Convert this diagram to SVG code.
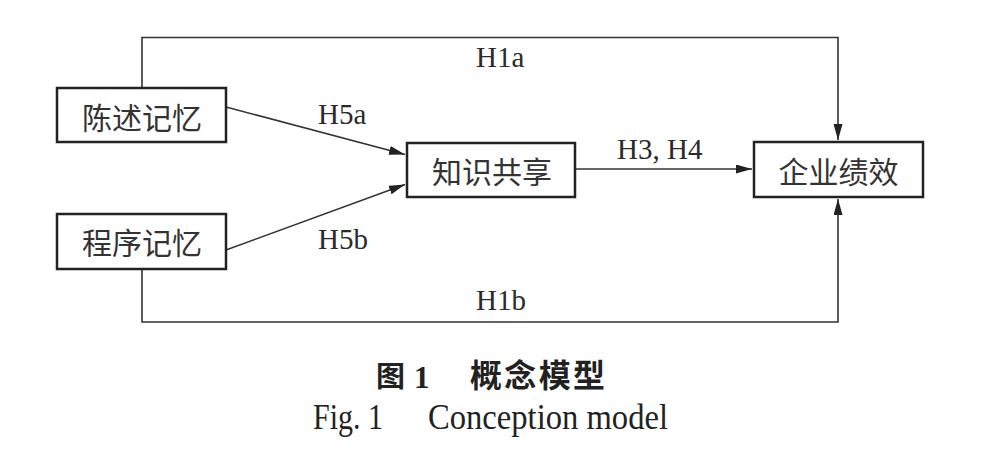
<svg xmlns="http://www.w3.org/2000/svg" width="1000" height="464" viewBox="0 0 1000 464">
<defs>
<marker id="arr" markerUnits="userSpaceOnUse" markerWidth="18" markerHeight="10" refX="16" refY="4.5" orient="auto">
<path d="M0,0 L16,4.5 L0,9 z" fill="#222"/>
</marker>
<style>
.box{fill:#fff;stroke:#222;stroke-width:2.5}
.cn{font-family:"Noto Sans CJK SC","Noto Sans",sans-serif;font-size:30px;fill:#333;text-anchor:middle}
.lbl{font-family:"Liberation Serif","Times New Roman",serif;font-size:29px;fill:#2a2a2a}
.ln{fill:none;stroke:#333;stroke-width:1.6}
.cap{fill:#222}
</style>
</defs>
<rect width="1000" height="464" fill="#fff"/>
<g id="connectors">
<path class="ln" d="M142,88 V37.5 H838 V140" marker-end="url(#arr)"/>
<path class="ln" d="M142,269 V322 H838 V199" marker-end="url(#arr)"/>
<line class="ln" x1="226" y1="107" x2="405" y2="154.5" marker-end="url(#arr)"/>
<line class="ln" x1="226" y1="250" x2="405" y2="184.5" marker-end="url(#arr)"/>
<line class="ln" x1="575" y1="169" x2="752" y2="169" marker-end="url(#arr)"/>
<text class="lbl" x="476" y="67">H1a</text>
<text class="lbl" x="318" y="124">H5a</text>
<text class="lbl" x="318" y="249">H5b</text>
<text class="lbl" x="617" y="159">H3, H4</text>
<text class="lbl" x="476" y="310">H1b</text>
</g>
<g id="node-declarative">
<rect class="box" x="57" y="88" width="169" height="54"/>
<text class="cn" x="142" y="129">陈述记忆</text>
</g>
<g id="node-procedural">
<rect class="box" x="57" y="214" width="169" height="55"/>
<text class="cn" x="142" y="254">程序记忆</text>
</g>
<g id="node-sharing">
<rect class="box" x="407" y="143" width="168" height="54"/>
<text class="cn" x="492" y="183">知识共享</text>
</g>
<g id="node-performance">
<rect class="box" x="754" y="142" width="169" height="55"/>
<text class="cn" x="838.5" y="183">企业绩效</text>
</g>
<g id="caption">
<text class="cap" x="376" y="387" font-family="Noto Sans CJK SC, sans-serif" font-size="29" font-weight="bold">图</text>
<text class="cap" x="414" y="388" font-family="Liberation Serif, serif" font-size="31" font-weight="bold">1</text>
<text class="cap" x="470" y="387" font-family="Noto Sans CJK SC, sans-serif" font-size="32" font-weight="bold" textLength="135" lengthAdjust="spacing">概念模型</text>
<text class="cap" x="313" y="429" font-family="Liberation Serif, serif" font-size="35" textLength="70" lengthAdjust="spacingAndGlyphs">Fig. 1</text>
<text class="cap" x="428" y="429" font-family="Liberation Serif, serif" font-size="35" textLength="240" lengthAdjust="spacingAndGlyphs">Conception model</text>
</g>
</svg>
